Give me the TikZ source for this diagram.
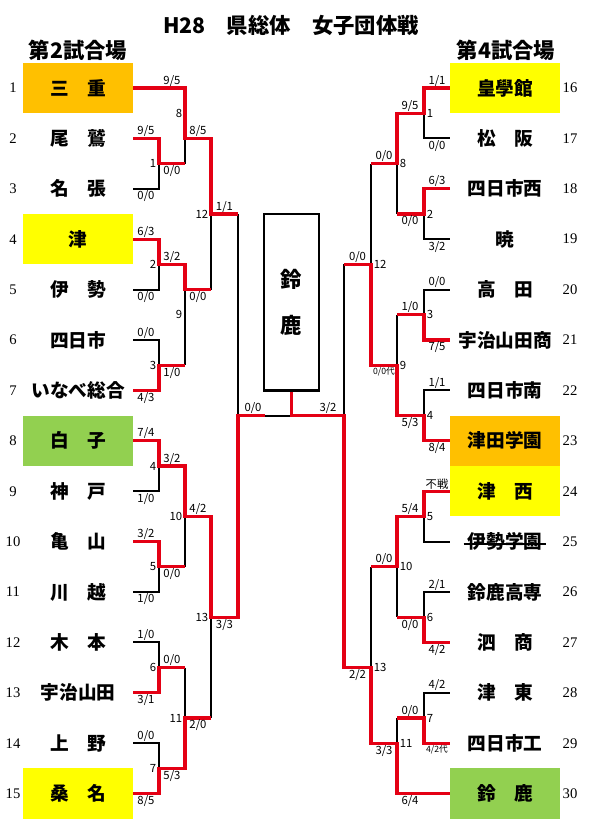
\documentclass[tikz,border=0pt]{standalone}
\usepackage{fontspec}
\setmainfont{Liberation Serif}
\newfontfamily\jp{Noto Sans CJK JP}
\usetikzlibrary{positioning}
\definecolor{winred}{RGB}{228,0,20}
\definecolor{seedorange}{RGB}{255,192,0}
\definecolor{seedyellow}{RGB}{255,255,0}
\definecolor{seedgreen}{RGB}{146,208,80}

\begin{document}
\begin{tikzpicture}[
  x=0.75pt, y=-37.8pt,
  team/.style={minimum width=82.5pt, minimum height=37.8pt, inner sep=0,
               font=\jp\bfseries\fontsize{14}{16}\selectfont},
  seedno/.style={font=\rmfamily\fontsize{11}{12}\selectfont},
  score/.style={font=\jp\fontsize{8.5}{9}\selectfont, inner sep=1.2pt},
  tiny score/.style={font=\jp\fontsize{6.5}{7}\selectfont, inner sep=1.2pt},
  head/.style={font=\jp\bfseries\fontsize{16}{18}\selectfont},
  lost/.style={line width=1.4pt},
  won/.style={draw=winred, line width=2.4pt}
]
\useasboundingbox (0,-0.746) rectangle (597,15.821);

% Title and venues
\node[head] (title) at (291,-0.25) {H28　県総体　女子団体戦};
\node[head] (venueL) at (78,0.25) {第2試合場};
\node[head] (venueR) at (506,0.25) {第4試合場};

% Teams, left block
\foreach \n/\t/\c in {
  1/三　重/seedorange, 2/尾　鷲/white, 3/名　張/white, 4/津/seedyellow,
  5/伊　勢/white, 6/四日市/white, 7/いなべ総合/white, 8/白　子/seedgreen,
  9/神　戸/white, 10/亀　山/white, 11/川　越/white, 12/木　本/white,
  13/宇治山田/white, 14/上　野/white, 15/桑　名/seedyellow%
} {
  \node[team, fill=\c] (L\n) at (78,\n) {\t};
  \node[seedno] at (13,\n) {\n};
}

% Teams, right block
\foreach \n/\t/\c in {
  16/皇學館/seedyellow, 17/松　阪/white, 18/四日市西/white, 19/暁/white,
  20/高　田/white, 21/宇治山田商/white, 22/四日市南/white, 23/津田学園/seedorange,
  24/津　西/seedyellow, 25/伊勢学園/white, 26/鈴鹿高専/white, 27/泗　商/white,
  28/津　東/white, 29/四日市工/white, 30/鈴　鹿/seedgreen%
} {
  \node[team, fill=\c] (R\n) at (505,\n-15) {\t};
  \node[seedno] at (570,\n-15) {\n};
}
% struck-out entry
\draw[line width=1.5pt] ([xshift=-31pt,yshift=-1.8pt]R25.center) -- ([xshift=31pt,yshift=-1.8pt]R25.center);

% Champion
\node[draw, line width=2.2pt, minimum width=41.25pt, minimum height=132.3pt,
      align=center, font=\jp\bfseries\fontsize{16}{35}\selectfont] (champ) at (291.5,5.25) {鈴\\鹿};

% Losing lines, left
\draw[lost] (185,2) -- (185,2.5);
\draw[lost] (L3.east) -- (159,3) -- (159,2.5);
\draw[lost] (211,3.5) -- (211,5);
\draw[lost] (L5.east) -- (159,5) -- (159,4.5);
\draw[lost] (185,5) -- (185,6.5);
\draw[lost] (L6.east) -- (159,6) -- (159,6.5);
\draw[lost] (238,3.5) -- (238,7.5);
\draw[lost] (265,7.5) -- (291.5,7.5);
\draw[lost] (L9.east) -- (159,9) -- (159,8.5);
\draw[lost] (185,9.5) -- (185,10.5);
\draw[lost] (L11.east) -- (159,11) -- (159,10.5);
\draw[lost] (211,11.5) -- (211,13.5);
\draw[lost] (L12.east) -- (159,12) -- (159,12.5);
\draw[lost] (185,12.5) -- (185,13.5);
\draw[lost] (L14.east) -- (159,14) -- (159,14.5);

% Losing lines, right
\draw[lost] (R17.west) -- (424,2) -- (424,1.5);
\draw[lost] (397,2.5) -- (397,3.5);
\draw[lost] (R19.west) -- (424,4) -- (424,3.5);
\draw[lost] (371,2.5) -- (371,4.5);
\draw[lost] (R20.west) -- (424,5) -- (424,5.5);
\draw[lost] (397,5.5) -- (397,6.5);
\draw[lost] (R22.west) -- (424,7) -- (424,7.5);
\draw[lost] (344,4.5) -- (344,7.5);
\draw[lost] (R25.west) -- (424,10) -- (424,9.5);
\draw[lost] (397,10.5) -- (397,11.5);
\draw[lost] (R26.west) -- (424,11) -- (424,11.5);
\draw[lost] (371,10.5) -- (371,12.5);
\draw[lost] (R28.west) -- (424,13) -- (424,13.5);
\draw[lost] (397,13.5) -- (397,14);

% Winning lines, left
\draw[won] (L1.east) -- (185,1) -- (185,2) -- (211,2) -- (211,3.5) -- (238,3.5);
\draw[won] (L2.east) -- (159,2) -- (159,2.5) -- (185,2.5);
\draw[won] (L4.east) -- (159,4) -- (159,4.5) -- (185,4.5) -- (185,5) -- (211,5);
\draw[won] (L7.east) -- (159,7) -- (159,6.5) -- (185,6.5);
\draw[won] (L8.east) -- (159,8) -- (159,8.5) -- (185,8.5) -- (185,9.5) -- (211,9.5)
  -- (211,11.5) -- (238,11.5) -- (238,7.5) -- (265,7.5);
\draw[won] (L10.east) -- (159,10) -- (159,10.5) -- (185,10.5);
\draw[won] (L13.east) -- (159,13) -- (159,12.5) -- (185,12.5);
\draw[won] (L15.east) -- (159,15) -- (159,14.5) -- (185,14.5) -- (185,13.5) -- (211,13.5);

% Winning lines, right
\draw[won] (R16.west) -- (424,1) -- (424,1.5) -- (397,1.5) -- (397,2.5) -- (371,2.5);
\draw[won] (R18.west) -- (424,3) -- (424,3.5) -- (397,3.5);
\draw[won] (R21.west) -- (424,6) -- (424,5.5) -- (397,5.5);
\draw[won] (R23.west) -- (424,8) -- (424,7.5) -- (397,7.5) -- (397,6.5) -- (371,6.5)
  -- (371,4.5) -- (344,4.5);
\draw[won] (R24.west) -- (424,9) -- (424,9.5) -- (397,9.5) -- (397,10.5) -- (371,10.5);
\draw[won] (R27.west) -- (424,12) -- (424,11.5) -- (397,11.5);
\draw[won] (R29.west) -- (424,14) -- (424,13.5) -- (397,13.5);
\draw[won] (champ.south) -- (291.5,7.5) -- (344,7.5) -- (344,12.5) -- (371,12.5)
  -- (371,14) -- (397,14) -- (397,15) -- (R30.west);

% Match numbers
\foreach \x/\y/\m in {159/2.5/1, 159/4.5/2, 159/6.5/3, 185/1.5/8, 185/5.5/9,
  211/3.5/12, 159/8.5/4, 159/10.5/5, 185/9.5/10, 211/11.5/13, 159/12.5/6,
  185/13.5/11, 159/14.5/7} {
  \node[score, anchor=east] at (\x-1,\y) {\m};
}
\foreach \x/\y/\m in {424/1.5/1, 397/2.5/8, 424/3.5/2, 371/4.5/12, 424/5.5/3,
  397/6.5/9, 424/7.5/4, 424/9.5/5, 397/10.5/10, 424/11.5/6, 371/12.5/13,
  424/13.5/7, 397/14/11} {
  \node[score, anchor=west] at (\x+1,\y) {\m};
}

% Scores above the lines
\foreach \x/\y/\s in {172/1/{9/5}, 198/2/{8/5}, 146/2/{9/5}, 224.5/3.5/{1/1},
  146/4/{6/3}, 172/4.5/{3/2}, 146/6/{0/0}, 253/7.5/{0/0}, 328/7.5/{3/2},
  146/8/{7/4}, 172/8.5/{3/2}, 198/9.5/{4/2}, 146/10/{3/2}, 146/12/{1/0},
  172/12.5/{0/0}, 146/14/{0/0},
  437/1/{1/1}, 410/1.5/{9/5}, 384/2.5/{0/0}, 437/3/{6/3}, 357.5/4.5/{0/0},
  437/5/{0/0}, 410/5.5/{1/0}, 437/7/{1/1}, 437/9/{不戦}, 410/9.5/{5/4},
  384/10.5/{0/0}, 437/11/{2/1}, 437/13/{4/2}, 410/13.5/{0/0}} {
  \node[score, above] at (\x,\y) {\s};
}

% Scores below the lines
\foreach \x/\y/\s in {172/2.5/{0/0}, 146/3/{0/0}, 146/5/{0/0}, 198/5/{0/0},
  172/6.5/{1/0}, 146/7/{4/3}, 146/9/{1/0}, 172/10.5/{0/0}, 146/11/{1/0},
  224.5/11.5/{3/3}, 146/13/{3/1}, 198/13.5/{2/0}, 172/14.5/{5/3}, 146/15/{8/5},
  437/2/{0/0}, 410/3.5/{0/0}, 437/4/{3/2}, 437/6/{7/5}, 410/7.5/{5/3},
  437/8/{8/4}, 410/11.5/{0/0}, 437/12/{4/2}, 357.5/12.5/{2/2}, 384/14/{3/3},
  410/15/{6/4}} {
  \node[score, below] at (\x,\y) {\s};
}
\node[tiny score, below] at (384,6.5) {0/0代};
\node[tiny score, below] at (437,14) {4/2代};

\end{tikzpicture}
\end{document}
